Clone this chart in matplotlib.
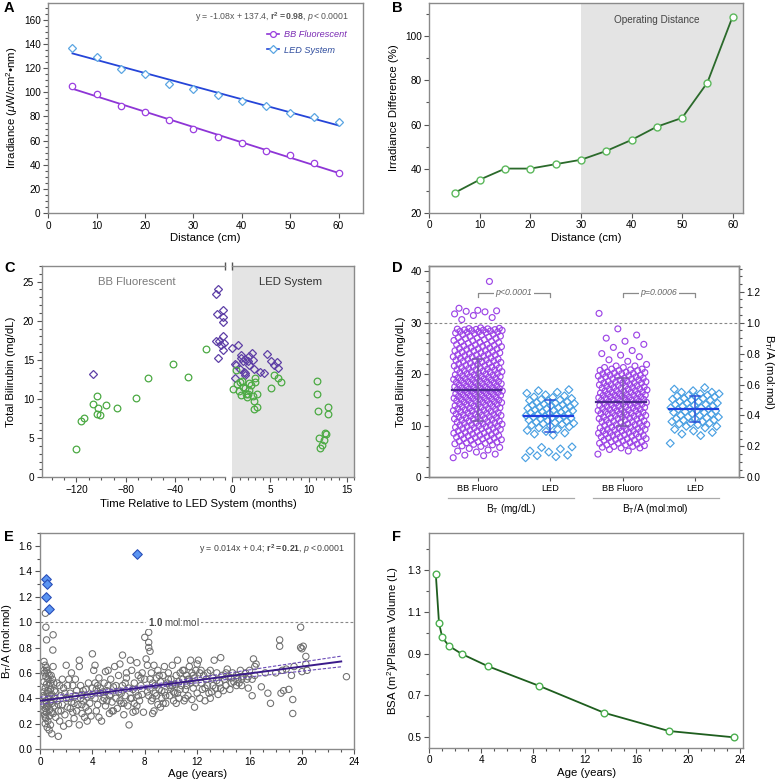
import numpy as np
import matplotlib
matplotlib.use("Agg")
import matplotlib.pyplot as plt
from matplotlib.ticker import MultipleLocator, FormatStrFormatter
import matplotlib.transforms as mtransforms

plt.rcParams['font.family'] = ['Liberation Sans', 'DejaVu Sans']
plt.rcParams['mathtext.fontset'] = 'custom'
plt.rcParams['mathtext.rm'] = 'Liberation Sans'
plt.rcParams['mathtext.it'] = 'Liberation Sans:italic'
plt.rcParams['mathtext.bf'] = 'Liberation Sans:bold'

# ---------------- Panel A data ----------------
dist_cm = [5, 10, 15, 20, 25, 30, 35, 40, 45, 50, 55, 60]
bb_irr = [105.5, 98.3, 88.3, 83.6, 77.0, 69.5, 63.4, 58.4, 51.8, 47.9, 41.2, 32.9]
led_irr = [137.0, 129.0, 119.3, 115.4, 106.9, 102.5, 97.8, 92.5, 88.6, 83.3, 79.7, 75.6]
fit_x = [5, 60]
bb_fit = [103.0, 33.2]
led_fit = [132.3, 72.6]

# ---------------- Panel B data ----------------
irr_diff = [29, 35, 40, 40, 42, 44, 48, 53, 59, 63, 79, 109]

# ---------------- Panel C data ----------------
c_green_pre_t = [-120, -116.5, -113.5, -106.8, -103.3, -102.5, -103.6, -100.9, -96.3, -87.4, -72.0, -62.3, -41.9, -30.0, -15.5]
c_green_pre_b = [3.64, 7.16, 7.63, 9.35, 10.42, 8.83, 8.1, 8.0, 9.22, 8.83, 10.16, 12.65, 14.45, 12.86, 16.34]
c_purple_pre_t = [-106.8, -6.0, -7.4, -6.6, -2.0, -1.5, -1.8, -6.9, -5.0, -2.0, -1.0, -3.6, -2.0, -6.0]
c_purple_pre_b = [13.25, 24.06, 23.4, 20.9, 21.4, 20.5, 19.9, 17.4, 17.4, 18.0, 17.2, 16.9, 16.25, 15.3]
c_purple_post_t = [0.0, 0.73, 0.3, 0.52, 1.08, 1.38, 1.68, 2.0, 2.54, 2.67, 2.24, 2.8, 1.5, 1.6, 1.6,
                   3.66, 4.1, 4.5, 5.04, 5.47, 5.9, 6.03, 0.95, 0.3, 1.2, 2.2]
c_purple_post_b = [16.5, 16.85, 14.5, 14.37, 15.57, 14.8, 15.1, 14.8, 15.9, 15.0, 14.37, 13.9, 13.5, 13.1, 13.3,
                   13.5, 13.3, 15.7, 14.8, 14.37, 14.7, 14.0, 13.9, 12.65, 15.3, 15.5]
c_green_post_t = [0.09, 0.5, 0.95, 0.82, 1.16, 1.38, 1.6, 1.8, 2.0, 2.24, 2.46, 2.67, 2.9, 2.8, 2.97, 2.97,
                  3.3, 3.3, 5.04, 5.47, 6.03, 6.4, 11.16, 11.08, 11.3, 12.6, 12.5, 11.4, 12.15, 12.3, 12.07,
                  11.8, 11.5, 2.24, 1.3, 0.6, 1.9]
c_green_post_b = [11.28, 13.7, 12.2, 11.0, 10.5, 11.6, 11.36, 10.7, 10.7, 11.15, 11.8, 10.4, 9.73, 8.7, 12.65, 12.2,
                  9.0, 10.7, 11.45, 13.1, 12.65, 12.2, 12.3, 10.68, 8.53, 8.92, 8.1, 5.0, 5.6, 5.5, 4.8,
                  4.07, 3.73, 12.0, 12.3, 11.9, 10.3]

# ---------------- Panel D data ----------------
d_categories = ['BB Fluoro', 'LED', 'BB Fluoro', 'LED']
d_groups = [r'B$_\mathregular{T}$ (mg/dL)', r'B$_\mathregular{T}$/A (mol:mol)']
bb_bt = [3.8, 4.2, 4.3, 4.5, 4.9, 5.1, 5.3, 5.6, 5.8, 6.0, 6.1, 6.3,
         6.4, 6.6, 6.7, 6.9, 7.0, 7.2, 7.3, 7.5, 7.6, 7.8, 7.9, 6.5, 7.1, 7.7,
         8.0, 8.1, 8.3, 8.4, 8.6, 8.7, 8.9, 9.0, 9.1, 9.3, 9.4, 9.6, 9.7, 9.9, 8.2, 8.8, 9.5, 9.8,
         10.0, 10.1, 10.2, 10.4, 10.5, 10.6, 10.8, 10.9, 11.0, 11.1, 11.3, 11.4, 11.5, 11.7, 11.8, 11.9, 10.3, 10.7, 11.2, 11.6,
         12.0, 12.1, 12.2, 12.3, 12.5, 12.6, 12.7, 12.8, 13.0, 13.1, 13.2, 13.3, 13.4, 13.6, 13.7, 13.8, 13.9, 12.4, 12.9, 13.5, 12.05, 13.25,
         14.0, 14.1, 14.2, 14.3, 14.4, 14.5, 14.6, 14.7, 14.8, 14.9, 15.0, 15.1, 15.2, 15.3, 15.4, 15.5, 15.6, 15.7, 15.8, 15.9, 14.25, 14.85, 15.35, 15.75,
         16.0, 16.1, 16.2, 16.3, 16.4, 16.5, 16.6, 16.7, 16.8, 16.9, 17.0, 17.1, 17.2, 17.3, 17.4, 17.5, 17.6, 17.7, 17.8, 17.9, 16.45, 17.05, 17.55, 16.95,
         18.0, 18.1, 18.2, 18.3, 18.4, 18.5, 18.6, 18.7, 18.8, 18.9, 19.0, 19.1, 19.2, 19.3, 19.4, 19.5, 19.6, 19.7, 19.8, 19.9, 18.45, 19.25,
         20.0, 20.1, 20.2, 20.4, 20.5, 20.6, 20.8, 20.9, 21.0, 21.1, 21.3, 21.4, 21.5, 21.7, 21.8, 21.9, 20.3, 20.7, 21.2, 21.6,
         22.0, 22.2, 22.3, 22.5, 22.6, 22.8, 22.9, 23.1, 23.2, 23.4, 23.5, 23.7, 23.8, 23.9, 22.4, 23.0, 23.6, 22.7,
         24.0, 24.2, 24.3, 24.5, 24.6, 24.8, 24.9, 25.1, 25.2, 25.4, 25.5, 25.7, 25.8, 24.4, 25.0, 25.6,
         26.0, 26.2, 26.4, 26.5, 26.7, 26.9, 27.1, 27.2, 27.4, 27.6, 27.7, 27.9, 26.3, 27.0,
         28.0, 28.1, 28.2, 28.3, 28.4, 28.5, 28.6, 28.7, 28.8, 28.9, 29.0, 28.25, 28.55, 28.75,
         8.15, 8.55, 9.05, 9.45, 9.85, 10.15, 10.55, 10.95, 11.35, 11.75, 12.15, 12.55, 12.95, 13.35, 13.75,
         14.15, 14.55, 14.95, 15.15, 15.55, 15.95, 16.15, 16.55, 16.75, 17.15, 17.35, 17.75, 18.15, 18.35, 18.55,
         18.95, 19.15, 19.55, 19.85, 20.15, 20.45, 20.85, 21.25, 21.65, 22.15, 22.55, 22.95, 23.35, 23.75, 24.15,
         24.55, 24.95, 25.35, 25.75, 26.15, 26.55, 26.95, 27.35, 27.75, 28.15, 28.45, 28.65, 28.85, 6.85, 7.45,
         30.6, 31.0, 31.4, 31.7, 32.1, 32.2, 32.3, 32.4, 32.8, 38.0]
led_bt = [3.8, 4.0, 4.2, 4.3, 4.9, 5.1, 5.5, 5.8, 5.9, 8.2, 8.4, 8.6, 8.9, 9.1, 9.3, 9.6, 9.8, 10.0, 10.1, 10.3,
          10.4, 10.6, 10.7, 10.9, 11.0, 11.1, 11.3, 11.4, 11.5, 11.7, 11.8, 11.9, 12.0, 12.1, 12.2, 12.4, 12.5,
          12.6, 12.7, 12.9, 13.0, 13.1, 13.2, 13.4, 13.5, 13.6, 13.7, 13.9, 14.0, 14.1, 14.2, 14.4, 14.5, 14.6,
          14.8, 14.9, 15.0, 15.1, 15.3, 15.5, 15.6, 15.8, 16.0, 16.3, 16.5, 16.8, 17.0, 10.5, 11.6, 12.3, 13.3, 14.3]
bb_bta = [0.15, 0.17, 0.18, 0.19, 0.19, 0.2, 0.2, 0.21, 0.21, 0.22,
          0.22, 0.23, 0.23, 0.24, 0.24, 0.25, 0.25, 0.26, 0.26, 0.27, 0.27, 0.28, 0.28, 0.29, 0.29,
          0.3, 0.3, 0.31, 0.31, 0.32, 0.32, 0.33, 0.33, 0.34, 0.34, 0.35, 0.35, 0.36, 0.36, 0.37, 0.37, 0.38, 0.38, 0.39, 0.39,
          0.4, 0.4, 0.41, 0.41, 0.42, 0.42, 0.43, 0.43, 0.44, 0.44, 0.45, 0.45, 0.46, 0.46, 0.47, 0.47, 0.48, 0.48, 0.49, 0.49,
          0.405, 0.425, 0.445, 0.465, 0.485,
          0.5, 0.5, 0.51, 0.51, 0.52, 0.52, 0.53, 0.53, 0.54, 0.54, 0.55, 0.55, 0.56, 0.56, 0.57, 0.57, 0.58, 0.58, 0.59, 0.59,
          0.505, 0.525, 0.545, 0.565, 0.585,
          0.6, 0.6, 0.61, 0.61, 0.62, 0.62, 0.63, 0.63, 0.64, 0.64, 0.65, 0.65, 0.66, 0.66, 0.67, 0.67, 0.68, 0.68, 0.69, 0.69,
          0.7, 0.7, 0.71, 0.71, 0.72, 0.72, 0.73,
          0.75, 0.76, 0.78, 0.79, 0.8, 0.82, 0.84, 0.86, 0.88, 0.9, 0.92, 0.96, 1.06,
          0.195, 0.215, 0.235, 0.255, 0.275, 0.295, 0.315, 0.335, 0.355, 0.375, 0.395, 0.412, 0.432, 0.452, 0.472,
          0.492, 0.512, 0.532, 0.552, 0.572, 0.592, 0.612, 0.632, 0.652, 0.672, 0.692, 0.302, 0.342, 0.382, 0.418,
          0.438, 0.458, 0.478, 0.498, 0.518, 0.538, 0.558, 0.578, 0.598, 0.618, 0.638, 0.658, 0.678, 0.262, 0.282,
          0.322, 0.362, 0.388,
          0.205, 0.225, 0.245, 0.265, 0.285, 0.305, 0.325, 0.345, 0.365, 0.385, 0.415, 0.435, 0.455, 0.475, 0.495,
          0.515, 0.535, 0.555, 0.575, 0.595, 0.615, 0.635, 0.655, 0.675, 0.695, 0.31, 0.41, 0.51, 0.61, 0.53]
led_bta = [0.22, 0.27, 0.28, 0.29, 0.3, 0.31, 0.32, 0.33, 0.33, 0.34, 0.35, 0.35, 0.36, 0.36, 0.37, 0.37, 0.38,
           0.38, 0.39, 0.39, 0.4, 0.4, 0.41, 0.41, 0.42, 0.42, 0.43, 0.43, 0.44, 0.44, 0.45, 0.45, 0.46, 0.46,
           0.47, 0.47, 0.48, 0.48, 0.49, 0.49, 0.5, 0.5, 0.51, 0.51, 0.52, 0.52, 0.53, 0.53, 0.54, 0.54, 0.55,
           0.55, 0.56, 0.57, 0.58, 0.345, 0.385, 0.425, 0.465, 0.505, 0.525, 0.445]
bt_mean = [17.0, 11.9]
bt_sd_lo = [11.0, 8.8]
bt_sd_hi = [23.0, 15.0]
bta_mean = [0.487, 0.44]
bta_sd_lo = [0.333, 0.357]
bta_sd_hi = [0.64, 0.527]
p_texts = ['p<0.0001', 'p=0.0006']

# ---------------- Panel E data ----------------
e_age = [0.41, 0.45, 0.5, 1.0, 0.98, 0.3, 0.4, 0.5, 0.35, 0.45, 0.6, 0.3, 0.5, 0.7, 0.4, 0.8, 0.3, 0.55, 0.9, 0.35,
         0.65, 0.45, 0.8, 0.3, 0.6, 0.4, 0.75, 0.5, 0.35, 0.7, 0.45, 0.6, 0.4, 0.8, 0.55, 0.7, 0.9, 1.0, 0.95, 1.05,
         0.85, 0.3, 0.25, 0.85, 1.1, 0.6, 0.5, 0.3, 1.4,
         1.2, 1.3, 1.4, 1.5, 1.6, 1.7, 1.8, 1.9, 2.0, 2.0, 2.1, 2.2, 2.2, 2.3, 2.4, 2.5, 2.5, 2.6, 2.7, 2.8, 2.9,
         3.0, 3.0, 3.0, 3.1, 3.2, 3.2, 3.3, 3.4, 3.5, 3.5, 3.6, 3.7, 3.8, 3.9, 4.0, 4.0, 1.2, 1.5, 1.8, 2.6, 1.1,
         2.8, 3.6, 1.7, 2.4,
         4.1, 4.2, 4.2, 4.3, 4.4, 4.5, 4.5, 4.6, 4.7, 4.8, 4.9, 5.0, 5.0, 5.1, 5.2, 5.3, 5.3, 5.4, 5.5, 5.6, 5.7,
         5.8, 5.9, 6.0, 6.0, 6.1, 6.2, 6.3, 6.3, 6.4, 6.5, 6.6, 6.7, 6.8, 6.8, 6.9, 7.0, 7.0, 7.1, 7.2, 7.3, 7.4,
         7.4, 7.5, 7.6, 7.7, 7.8, 7.9, 8.0, 8.0, 4.6, 5.6, 6.6, 7.2, 4.9, 6.1, 7.8, 5.2,
         8.1, 8.2, 8.3, 8.3, 8.3, 8.4, 8.4, 8.5, 8.5, 8.6, 8.7, 8.7, 8.8, 8.9, 9.0, 9.0, 9.1, 9.2, 9.3, 9.4, 9.5,
         9.5, 9.6, 9.7, 9.8, 9.9, 10.0, 10.0, 10.1, 10.2, 10.3, 10.4, 10.5, 10.5, 10.6, 10.7, 10.8, 10.9, 11.0,
         11.0, 11.1, 11.2, 11.3, 11.4, 11.5, 11.5, 11.6, 11.7, 11.8, 11.8, 11.9, 12.0, 12.0, 8.6, 9.2, 10.2, 11.6,
         8.9, 9.9, 10.6, 11.3,
         12.1, 12.2, 12.2, 12.3, 12.4, 12.5, 12.6, 12.7, 12.8, 13.0, 13.1, 13.2, 13.3, 13.4, 13.5, 13.6, 13.7, 13.8,
         13.9, 14.0, 14.1, 14.2, 14.3, 14.4, 14.5, 14.7, 14.8, 15.0, 15.1, 15.2, 15.3, 15.4, 15.5, 15.7, 15.8, 16.0,
         16.2, 16.3, 16.4, 16.4, 16.5, 16.2, 13.0, 14.6, 12.9, 15.9,
         16.9, 17.4, 17.6, 18.0, 18.3, 18.3, 18.4, 18.5, 18.6, 19.0, 19.2, 19.3, 19.3, 19.4, 19.9, 19.9, 20.0, 20.1,
         20.3, 20.3, 20.4, 23.4, 17.2, 18.8, 20.0,
         0.5, 0.6, 0.7, 0.4, 0.5, 0.8, 0.9, 1.0, 1.1, 1.3, 1.6, 1.9, 2.1, 2.3, 2.7, 3.1, 3.3, 3.7, 3.9, 4.3,
         4.4, 4.8, 5.1, 5.4, 5.8, 6.2, 6.5, 6.9, 7.1, 7.5, 7.7, 8.2, 8.4, 8.6, 8.8, 9.1, 9.3, 9.6, 9.8, 10.1,
         10.3, 10.7, 10.9, 11.2, 11.4, 11.7, 11.9, 12.3, 12.6, 12.8, 13.2, 13.5, 13.8, 14.2, 14.6, 15.0, 15.4,
         15.9, 8.3, 9.4, 10.4, 11.1, 7.3, 6.4, 5.5, 4.2, 3.2, 2.2, 1.4, 0.7]
e_ratio = [1.07, 0.96, 0.86, 0.9, 0.78, 0.69, 0.66, 0.64, 0.6, 0.57, 0.55, 0.53, 0.51, 0.5, 0.48, 0.47, 0.45, 0.44, 0.43, 0.41,
           0.4, 0.38, 0.37, 0.35, 0.34, 0.32, 0.31, 0.29, 0.27, 0.26, 0.24, 0.22, 0.2, 0.19, 0.17, 0.15, 0.12, 0.65, 0.55, 0.52,
           0.58, 0.62, 0.42, 0.29, 0.34, 0.6, 0.33, 0.3, 0.1,
           0.45, 0.38, 0.3, 0.22, 0.42, 0.35, 0.48, 0.27, 0.66, 0.4, 0.33, 0.55, 0.2, 0.44, 0.37, 0.29, 0.5, 0.24, 0.42, 0.46, 0.35,
           0.7, 0.65, 0.19, 0.5, 0.43, 0.28, 0.38, 0.25, 0.47, 0.33, 0.41, 0.52, 0.36, 0.26, 0.48, 0.75, 0.25, 0.5, 0.18, 0.36, 0.4,
           0.3, 0.22, 0.55, 0.6,
           0.62, 0.66, 0.4, 0.3, 0.5, 0.56, 0.25, 0.44, 0.22, 0.38, 0.52, 0.61, 0.34, 0.46, 0.62, 0.42, 0.28, 0.55, 0.37, 0.49, 0.65,
           0.4, 0.32, 0.58, 0.45, 0.67, 0.36, 0.74, 0.5, 0.27, 0.42, 0.56, 0.34, 0.19, 0.48, 0.7, 0.62, 0.4, 0.29, 0.52, 0.45, 0.68,
           0.34, 0.58, 0.38, 0.5, 0.43, 0.29, 0.88, 0.55, 0.48, 0.3, 0.6, 0.36, 0.4, 0.38, 0.6, 0.5,
           0.71, 0.66, 0.92, 0.84, 0.8, 0.77, 0.48, 0.38, 0.6, 0.52, 0.3, 0.66, 0.44, 0.56, 0.35, 0.62, 0.47, 0.53, 0.4, 0.58, 0.65,
           0.45, 0.36, 0.52, 0.6, 0.42, 0.55, 0.48, 0.66, 0.38, 0.51, 0.58, 0.44, 0.7, 0.4, 0.6, 0.5, 0.55, 0.38,
           0.62, 0.47, 0.58, 0.42, 0.65, 0.52, 0.7, 0.6, 0.48, 0.33, 0.56, 0.62, 0.67, 0.44, 0.28, 0.33, 0.45, 0.39,
           0.42, 0.5, 0.53, 0.55,
           0.7, 0.6, 0.4, 0.52, 0.47, 0.58, 0.38, 0.55, 0.5, 0.62, 0.45, 0.56, 0.7, 0.48, 0.6, 0.43, 0.52, 0.72,
           0.58, 0.46, 0.55, 0.5, 0.63, 0.57, 0.47, 0.6, 0.53, 0.58, 0.55, 0.52, 0.62, 0.5, 0.57, 0.6, 0.55, 0.62,
           0.42, 0.71, 0.65, 0.58, 0.67, 0.55, 0.4, 0.56, 0.44, 0.48,
           0.49, 0.44, 0.36, 0.6, 0.86, 0.81, 0.44, 0.62, 0.46, 0.47, 0.58, 0.39, 0.28, 0.65, 0.96, 0.8, 0.79, 0.81,
           0.73, 0.67, 0.62, 0.57, 0.6, 0.63, 0.61,
           0.36, 0.46, 0.58, 0.25, 0.62, 0.52, 0.36, 0.28, 0.46, 0.52, 0.3, 0.44, 0.5, 0.32, 0.55, 0.4, 0.46, 0.3, 0.42, 0.47,
           0.35, 0.45, 0.38, 0.43, 0.5, 0.44, 0.52, 0.4, 0.47, 0.42, 0.56, 0.45, 0.55, 0.4, 0.5, 0.58, 0.46, 0.42, 0.55, 0.5,
           0.44, 0.47, 0.62, 0.5, 0.55, 0.58, 0.52, 0.62, 0.48, 0.6, 0.5, 0.54, 0.48, 0.6, 0.52, 0.5, 0.55,
           0.57, 0.42, 0.36, 0.36, 0.4, 0.3, 0.36, 0.3, 0.52, 0.35, 0.4, 0.35, 0.42]
e_high_age = [0.46, 0.53, 0.48, 0.66, 7.4]
e_high_ratio = [1.34, 1.30, 1.20, 1.10, 1.54]
e_fit_x = [0, 8, 23]
e_fit_y = [0.38, 0.488, 0.69]
e_ci_lo = [0.352, 0.476, 0.648]
e_ci_hi = [0.408, 0.500, 0.732]

# ---------------- Panel F data ----------------
f_age = [0.5, 0.75, 1.0, 1.5, 2.5, 4.5, 8.5, 13.5, 18.5, 23.5]
f_bsa_pv = [1.28, 1.044, 0.977, 0.937, 0.898, 0.84, 0.745, 0.617, 0.53, 0.50]

# ---------------- styling helpers ----------------
SPINE = '#8a8a8a'
TICKC = '#555555'
TICK = 7.2
LBL = 8.2
NOTE = 6.3


def style(ax, sides=('left', 'bottom', 'top', 'right')):
    for s in ['left', 'bottom', 'top', 'right']:
        ax.spines[s].set_visible(s in sides)
        ax.spines[s].set_color(SPINE)
        ax.spines[s].set_linewidth(1.0)
    ax.tick_params(which='both', direction='out', colors=TICKC, labelcolor='black', labelsize=TICK, width=0.8, pad=2)
    ax.tick_params(which='major', length=3.5)
    ax.tick_params(which='minor', length=2)


fig = plt.figure(figsize=(7.83, 7.83), dpi=100)

# ---------------- A ----------------
axA = fig.add_axes([0.0617, 0.728, 0.4015, 0.268])
style(axA)
c_bb = '#9b3fe0'
c_led_line = '#2545d8'
c_led_mk = '#5aa5e2'
axA.plot(fit_x, bb_fit, color='#8e35d6', lw=1.3, zorder=2)
axA.plot(fit_x, led_fit, color=c_led_line, lw=1.3, zorder=2)
axA.plot(dist_cm, bb_irr, ls='none', marker='o', ms=4.6, mfc='white', mec=c_bb, mew=0.9, zorder=3)
axA.plot(dist_cm, led_irr, ls='none', marker='D', ms=4.0, mfc='white', mec=c_led_mk, mew=0.9, zorder=3)
h1, = axA.plot([], [], color='#8e35d6', lw=1.2, marker='o', ms=4.2, mfc='white', mec=c_bb, mew=0.9)
h2, = axA.plot([], [], color=c_led_line, lw=1.2, marker='D', ms=3.8, mfc='white', mec=c_led_mk, mew=0.9)
leg = axA.legend([h1, h2], ['BB Fluorescent', 'LED System'], loc='upper left', bbox_to_anchor=(0.68, 0.895),
                 frameon=False, handlelength=1.3, handletextpad=0.6, labelspacing=0.75, borderpad=0,
                 prop={'style': 'italic', 'size': 6.6})
leg.get_texts()[0].set_color('#7a2bb3')
leg.get_texts()[1].set_color('#2c4a9c')
axA.text(0.955, 0.935, r'y = -1.08x + 137.4, $\mathbf{r^2 = 0.98}$, $\mathit{p<0.0001}$', transform=axA.transAxes,
         ha='right', va='center', fontsize=NOTE, color='#555555')
axA.set_xlim(0, 65)
axA.set_ylim(0, 174)
axA.xaxis.set_major_locator(MultipleLocator(10))
axA.yaxis.set_major_locator(MultipleLocator(20))
axA.yaxis.set_minor_locator(MultipleLocator(5))
axA.set_xlabel('Distance (cm)', fontsize=LBL, labelpad=2)
axA.set_ylabel(r'Irradiance ($\mathit{\mu}$W/cm$^2$•nm)', fontsize=LBL, labelpad=3)

# ---------------- B ----------------
axB = fig.add_axes([0.5483, 0.7284, 0.4003, 0.2674])
style(axB)
axB.axvspan(30, 62, color='#e4e4e4', zorder=0, lw=0)
axB.plot(dist_cm, irr_diff, color='#2b6a2b', lw=1.3, marker='o', ms=5, mfc='white', mec='#5cb85c', mew=1.0)
axB.text(45, 107.6, 'Operating Distance', ha='center', va='center', fontsize=7.2, color='#444444')
axB.set_xlim(0, 62)
axB.set_ylim(20, 115)
axB.xaxis.set_major_locator(MultipleLocator(10))
axB.yaxis.set_major_locator(MultipleLocator(20))
axB.yaxis.set_minor_locator(MultipleLocator(10))
axB.set_xlabel('Distance (cm)', fontsize=LBL, labelpad=2)
axB.set_ylabel('Irradiance Difference (%)', fontsize=LBL, labelpad=4)

# ---------------- C ----------------
axC1 = fig.add_axes([0.0533, 0.3904, 0.2341, 0.2699])
axC2 = fig.add_axes([0.2967, 0.3904, 0.1558, 0.2699])
style(axC1, sides=('left', 'bottom', 'top'))
style(axC2, sides=('bottom', 'top', 'right'))
axC2.set_facecolor('#e4e4e4')
c_green = '#4caa44'
c_purp = '#5e3fa6'
for ax, gt, gb, pt, pb in [(axC1, c_green_pre_t, c_green_pre_b, c_purple_pre_t, c_purple_pre_b),
                           (axC2, c_green_post_t, c_green_post_b, c_purple_post_t, c_purple_post_b)]:
    ax.plot(pt, pb, ls='none', marker='D', ms=4.2, mfc='none', mec=c_purp, mew=0.9, clip_on=False)
    ax.plot(gt, gb, ls='none', marker='o', ms=4.8, mfc='none', mec=c_green, mew=0.9, clip_on=False)
axC1.set_xlim(-148, 0)
axC2.set_xlim(0, 16)
for ax in (axC1, axC2):
    ax.set_ylim(0, 27)
axC1.set_xticks([-120, -80, -40])
axC1.xaxis.set_minor_locator(MultipleLocator(10))
axC1.yaxis.set_major_locator(MultipleLocator(5))
axC1.yaxis.set_minor_locator(MultipleLocator(1))
axC2.xaxis.set_major_locator(MultipleLocator(5))
axC2.xaxis.set_minor_locator(MultipleLocator(1))
axC2.set_yticks([])
axC2.tick_params(axis='y', which='both', left=False, right=False)
axC1.text(-71.5, 25, 'BB Fluorescent', ha='center', va='center', fontsize=8.2, color='#7a7a7a')
axC2.text(7.7, 25, 'LED System', ha='center', va='center', fontsize=8.2, color='#333333')
axC1.plot([1], [1], transform=axC1.transAxes, marker='|', ms=6, mew=1.0, color='#555555', clip_on=False)
axC2.plot([0], [1], transform=axC2.transAxes, marker='|', ms=6, mew=1.0, color='#555555', clip_on=False)
axC1.set_ylabel('Total Bilirubin (mg/dL)', fontsize=LBL, labelpad=5)
fig.text(198 / 783, 1 - 504 / 783, 'Time Relative to LED System (months)', ha='center', va='center', fontsize=LBL)

# ---------------- D ----------------
axD = fig.add_axes([0.5483, 0.3904, 0.3955, 0.2699])
style(axD, sides=('left', 'bottom', 'top', 'right'))
axD2 = axD.twinx()
style(axD2)
axD.set_xlim(0.33, 4.61)
axD.set_ylim(0, 41)
axD2.set_ylim(0, 41 / 30)
axD.yaxis.set_major_locator(MultipleLocator(10))
axD.yaxis.set_minor_locator(MultipleLocator(2))
axD2.yaxis.set_major_locator(MultipleLocator(0.2))
axD2.yaxis.set_minor_locator(MultipleLocator(0.05))
axD2.yaxis.set_major_formatter(FormatStrFormatter('%.1f'))


def spread(vals, center, half=0.34):
    vals = np.asarray(vals, dtype=float)
    order = np.argsort(vals, kind='stable')
    xs = np.empty(len(vals))
    for rank, idx in enumerate(order):
        frac = (rank * 0.6180339887) % 1.0
        xs[idx] = center + (frac - 0.5) * 2 * half
    return xs


c_dp = '#9d45e6'
c_db = '#4aa0e2'
axD.scatter(spread(bb_bt, 1), bb_bt, s=18, facecolors='none', edgecolors=c_dp, linewidths=0.85, zorder=3)
axD.scatter(spread(led_bt, 2), led_bt, s=16, marker='D', facecolors='none', edgecolors=c_db, linewidths=0.85, zorder=3)
axD2.scatter(spread(bb_bta, 3), bb_bta, s=18, facecolors='none', edgecolors=c_dp, linewidths=0.85, zorder=3)
axD2.scatter(spread(led_bta, 4), led_bta, s=16, marker='D', facecolors='none', edgecolors=c_db, linewidths=0.85, zorder=3)
mean_cols = ['#4b2a8c', '#1f3fe0']
bar_cols = ['#7a5aa8', '#2d55d8']
for i, pos in enumerate([1, 2]):
    axD.plot([pos - 0.36, pos + 0.32], [bt_mean[i]] * 2, color=mean_cols[i], lw=1.6, zorder=5)
    axD.plot([pos, pos], [bt_sd_lo[i], bt_sd_hi[i]], color=bar_cols[i], lw=1.1, zorder=5)
    for yv in (bt_sd_lo[i], bt_sd_hi[i]):
        axD.plot([pos - 0.07, pos + 0.07], [yv, yv], color=bar_cols[i], lw=1.1, zorder=5)
for i, pos in enumerate([3, 4]):
    axD2.plot([pos - 0.36, pos + 0.32], [bta_mean[i]] * 2, color=mean_cols[i], lw=1.6, zorder=5)
    axD2.plot([pos, pos], [bta_sd_lo[i], bta_sd_hi[i]], color=bar_cols[i], lw=1.1, zorder=5)
    for yv in (bta_sd_lo[i], bta_sd_hi[i]):
        axD2.plot([pos - 0.07, pos + 0.07], [yv, yv], color=bar_cols[i], lw=1.1, zorder=5)
axD.axhline(30, color='#888888', lw=0.8, ls=(0, (2.5, 2)), zorder=1)
for (a, b), txt in zip([(1, 2), (3, 4)], p_texts):
    axD.plot([a, a, b, b], [35.0, 35.8, 35.8, 35.0], color='#8a8a8a', lw=0.9)
    axD.text((a + b) / 2, 35.8, txt, ha='center', va='center', fontsize=NOTE, style='italic', color='#666666',
             bbox=dict(facecolor='white', edgecolor='none', pad=1.2))
axD.set_xticks([1, 2, 3, 4])
axD.set_xticklabels(d_categories, fontsize=6.6)
axD.tick_params(axis='x', length=3, pad=2)
axD.set_ylabel('Total Bilirubin (mg/dL)', fontsize=LBL, labelpad=3)
axD2.set_ylabel(r'B$_\mathregular{T}$/A (mol:mol)', fontsize=LBL, rotation=270, labelpad=11)
trD = mtransforms.blended_transform_factory(axD.transData, axD.transAxes)
for (x0, x1), xc, g in zip([(0.588, 2.33), (2.59, 4.34)], [1.46, 3.45], d_groups):
    axD.plot([x0, x1], [-0.098, -0.098], transform=trD, color='#aaaaaa', lw=0.9, clip_on=False)
    axD.text(xc, -0.148, g, transform=trD, ha='center', va='center', fontsize=7.2)

# ---------------- E ----------------
axE = fig.add_axes([0.0511, 0.0434, 0.4014, 0.2755])
style(axE)
axE.scatter(e_age, e_ratio, s=21, facecolors='none', edgecolors='#6e6e6e', linewidths=0.75, zorder=2)
axE.plot(e_fit_x, e_fit_y, color='#3a1a8a', lw=1.4, zorder=4)
axE.plot(e_fit_x, e_ci_lo, color='#6a4ab8', lw=0.8, ls=(0, (3, 1.5)), zorder=4)
axE.plot(e_fit_x, e_ci_hi, color='#6a4ab8', lw=0.8, ls=(0, (3, 1.5)), zorder=4)
axE.scatter(e_high_age, e_high_ratio, s=24, marker='D', facecolors='#5b95f2', edgecolors='#2a4fb8', linewidths=0.8, zorder=5)
axE.axhline(1.0, color='#888888', lw=0.8, ls=(0, (2.5, 2)), zorder=1)
axE.text(10.2, 1.0, r'$\mathbf{1.0}$ mol:mol', ha='center', va='center', fontsize=7.0, color='#444444',
         bbox=dict(facecolor='white', edgecolor='none', pad=1.0), zorder=3)
axE.text(0.97, 0.927, r'y = 0.014x + 0.4; $\mathbf{r^2 = 0.21}$, $\mathit{p<0.0001}$', transform=axE.transAxes,
         ha='right', va='center', fontsize=NOTE, color='#444444')
axE.set_xlim(0, 24)
axE.set_ylim(0, 1.7)
axE.xaxis.set_major_locator(MultipleLocator(4))
axE.xaxis.set_minor_locator(MultipleLocator(1))
axE.yaxis.set_major_locator(MultipleLocator(0.2))
axE.yaxis.set_minor_locator(MultipleLocator(0.1))
axE.yaxis.set_major_formatter(FormatStrFormatter('%.1f'))
axE.set_xlabel('Age (years)', fontsize=LBL, labelpad=2)
axE.set_ylabel(r'B$_\mathregular{T}$/A (mol:mol)', fontsize=LBL, labelpad=3)

# ---------------- F ----------------
axF = fig.add_axes([0.5483, 0.045, 0.401, 0.2742])
style(axF)
axF.plot(f_age, f_bsa_pv, color='#1e5e1e', lw=1.3, marker='o', ms=4.8, mfc='white', mec='#4caf50', mew=1.0)
axF.set_xlim(0, 24.25)
axF.set_ylim(0.45, 1.475)
axF.xaxis.set_major_locator(MultipleLocator(4))
axF.xaxis.set_minor_locator(MultipleLocator(1))
axF.set_yticks([0.5, 0.7, 0.9, 1.1, 1.3])
axF.yaxis.set_minor_locator(MultipleLocator(0.1))
axF.yaxis.set_major_formatter(FormatStrFormatter('%.1f'))
axF.set_xlabel('Age (years)', fontsize=LBL, labelpad=2)
axF.set_ylabel(r'BSA (m$^2$)/Plasma Volume (L)', fontsize=LBL, labelpad=5)

# ---------------- panel letters ----------------
for lab, x, y in [('A', 4, 8), ('B', 392, 8), ('C', 4, 268), ('D', 392, 268), ('E', 4, 537), ('F', 392, 537)]:
    fig.text(x / 783, 1 - y / 783, lab, fontsize=10.5, fontweight='bold', ha='left', va='center')

fig.savefig('out.png', dpi=100)
